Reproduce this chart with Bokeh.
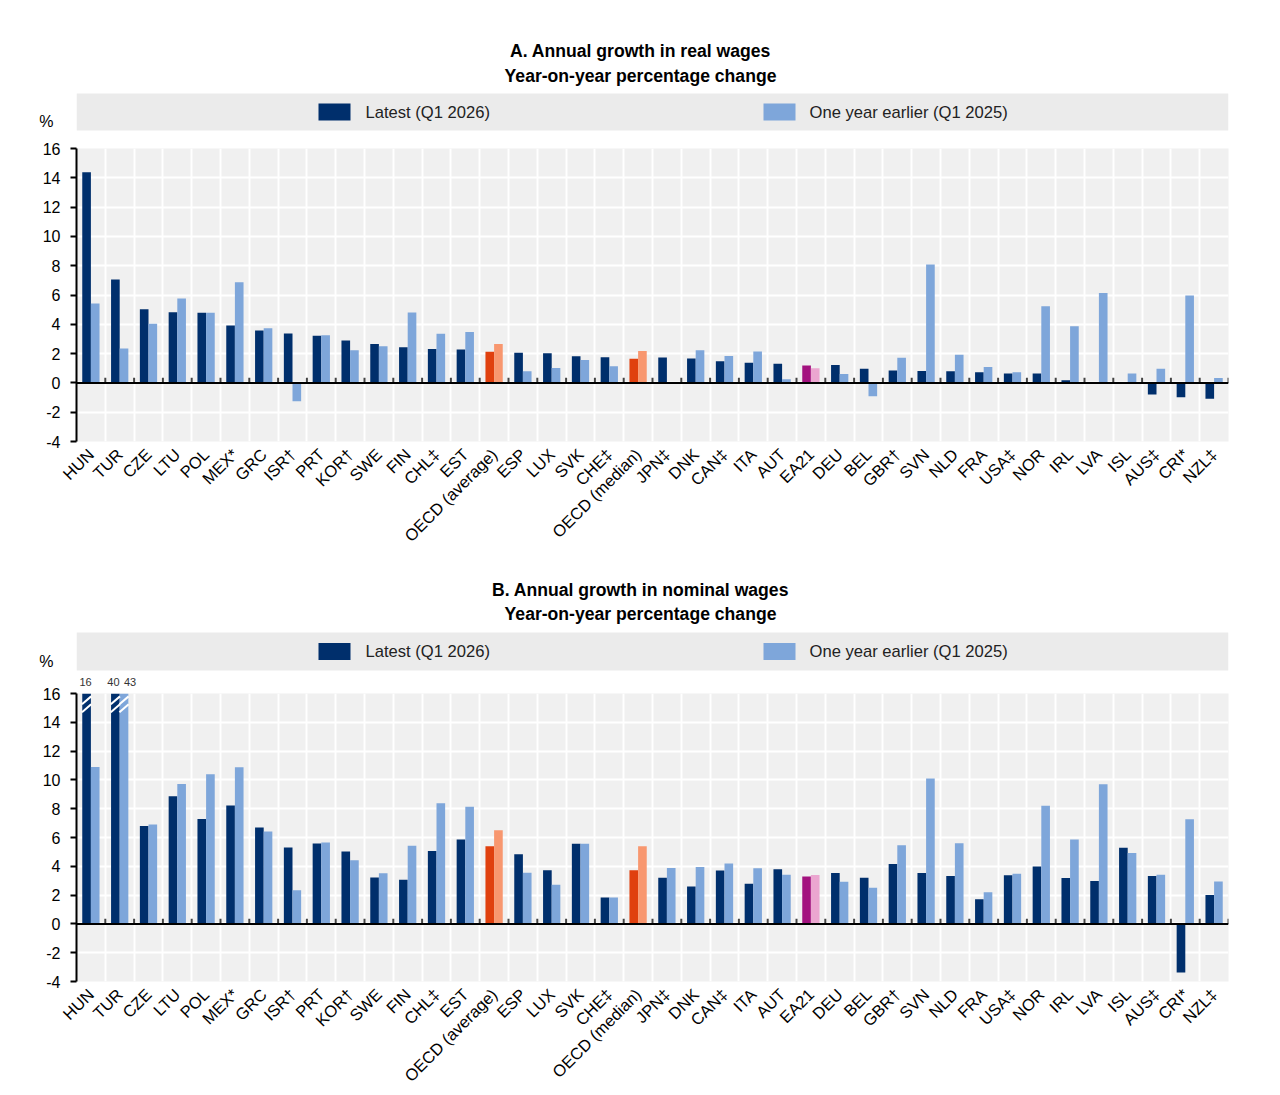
from bokeh.plotting import figure
from bokeh.models import (ColumnDataSource, FactorRange, Range1d, FixedTicker, Span)
from bokeh.transform import dodge
from bokeh.layouts import column
from bokeh.core.properties import value
from bokeh.embed import file_html
from bokeh.resources import INLINE

FONT = "Liberation Sans"

categories = ["HUN", "TUR", "CZE", "LTU", "POL", "MEX*", "GRC", "ISR†", "PRT", "KOR†",
              "SWE", "FIN", "CHL‡", "EST", "OECD (average)", "ESP", "LUX", "SVK", "CHE‡",
              "OECD (median)", "JPN‡", "DNK", "CAN‡", "ITA", "AUT", "EA21", "DEU", "BEL",
              "GBR†", "SVN", "NLD", "FRA", "USA‡", "NOR", "IRL", "LVA", "ISL", "AUS‡",
              "CRI*", "NZL‡"]

real_latest = [14.38, 7.06, 5.03, 4.82, 4.78, 3.91, 3.57, 3.37, 3.21, 2.89,
               2.66, 2.44, 2.32, 2.28, 2.12, 2.05, 2.03, 1.82, 1.75,
               1.64, 1.73, 1.66, 1.48, 1.37, 1.30, 1.18, 1.23, 0.96,
               0.84, 0.82, 0.80, 0.73, 0.64, 0.64, 0.18, 0.02, 0.0, -0.80,
               -0.98, -1.09]
real_earlier = [5.42, 2.34, 4.03, 5.76, 4.78, 6.87, 3.73, -1.25, 3.25, 2.23,
                2.50, 4.80, 3.35, 3.48, 2.66, 0.80, 1.02, 1.57, 1.14,
                2.18, 0.03, 2.23, 1.84, 2.14, 0.25, 1.00, 0.61, -0.91,
                1.71, 8.08, 1.93, 1.09, 0.73, 5.23, 3.87, 6.14, 0.64, 0.96,
                5.96, 0.34]

nom_latest = [16.2, 40.0, 6.79, 8.86, 7.28, 8.23, 6.70, 5.30, 5.58, 5.02,
              3.23, 3.07, 5.07, 5.86, 5.40, 4.84, 3.72, 5.56, 1.84,
              3.72, 3.21, 2.60, 3.70, 2.79, 3.79, 3.30, 3.53, 3.21,
              4.16, 3.53, 3.33, 1.72, 3.37, 3.98, 3.19, 2.98, 5.28, 3.33,
              -3.37, 2.00]
nom_earlier = [10.9, 43.0, 6.91, 9.72, 10.40, 10.88, 6.42, 2.33, 5.65, 4.42,
               3.51, 5.42, 8.37, 8.14, 6.51, 3.56, 2.72, 5.56, 1.84,
               5.40, 3.88, 3.95, 4.19, 3.86, 3.42, 3.40, 2.93, 2.51,
               5.47, 10.09, 5.60, 2.19, 3.49, 8.21, 5.86, 9.70, 4.93, 3.42,
               7.26, 2.95]

series_names = ["Latest (Q1 2026)", "One year earlier (Q1 2025)"]
y_ticks = [-4, -2, 0, 2, 4, 6, 8, 10, 12, 14, 16]
y_cap = 16

DARK = "#002F6C"
LIGHT = "#7EA6DA"
special_dark = {"OECD (average)": "#E0400E", "OECD (median)": "#E0400E", "EA21": "#A3127F"}
special_light = {"OECD (average)": "#F8976F", "OECD (median)": "#F8976F", "EA21": "#EBA6D0"}

W = 1280
LEFT = 76
RIGHT = 52
FW = W - LEFT - RIGHT
N = len(categories)
OFF = 0.15


def header(height, title1, title2, t1y, t2y, band_top, band_bot, pct_y, breaks=None):
    h = figure(width=W, height=height, frame_width=FW, frame_height=height,
               x_range=Range1d(LEFT, LEFT + FW), y_range=Range1d(height, 0),
               output_backend="svg", toolbar_location=None,
               min_border_left=LEFT, min_border_right=RIGHT, min_border_top=0,
               min_border_bottom=0)
    h.xaxis.visible = False
    h.grid.visible = False
    h.outline_line_color = None
    h.background_fill_color = "white"
    h.border_fill_color = "white"
    # the "%" unit sits as the only label of an otherwise bare left axis
    h.yaxis.ticker = FixedTicker(ticks=[pct_y])
    h.yaxis.major_label_overrides = {pct_y: "%"}
    h.yaxis.axis_line_color = None
    h.yaxis.major_tick_line_color = None
    h.yaxis.minor_tick_line_color = None
    h.yaxis.major_label_standoff = 17
    h.yaxis.major_label_text_font = FONT
    h.yaxis.major_label_text_font_size = "16px"
    h.yaxis.major_label_text_color = "black"

    h.text(x=[W / 2, W / 2], y=[t1y, t2y], text=[title1, title2], text_align="center",
           text_baseline="middle", text_font=value(FONT), text_font_style="bold",
           text_font_size="17.6px", text_color="black")
    h.quad(left=[LEFT], right=[LEFT + FW], top=[band_top], bottom=[band_bot],
           fill_color="#EBEBEB", line_color=None)
    mid = (band_top + band_bot) / 2
    h.quad(left=[318, 763], right=[350, 795], top=[mid - 8.5, mid - 8.5],
           bottom=[mid + 8.5, mid + 8.5], fill_color=[DARK, LIGHT], line_color=None)
    h.text(x=[365, 809], y=[mid, mid], text=series_names, text_align="left",
           text_baseline="middle", text_font=value(FONT), text_font_size="16.6px",
           text_color="#222222")
    if breaks:
        # value labels of bars cut at the axis top, over their own bar
        bx, by, bt = [], [], []
        for (cat, off, v, nudge) in breaks:
            i = categories.index(cat)
            bx.append(LEFT + (i + 0.5 + off) * FW / N + nudge)
            by.append(height - 5)
            bt.append("%d" % round(v))
        h.text(x=bx, y=by, text=bt, text_align="center", text_baseline="middle",
               text_font=value(FONT), text_font_size="11px", text_color="#333333")
    return h


def panel(latest, earlier, top_border, frame_h, bottom_border, broken=False):
    lat_plot = [min(v, y_cap) for v in latest]
    ear_plot = [min(v, y_cap) for v in earlier]
    src = ColumnDataSource(dict(
        cat=categories, latest=lat_plot, earlier=ear_plot,
        c1=[special_dark.get(c, DARK) for c in categories],
        c2=[special_light.get(c, LIGHT) for c in categories],
    ))
    p = figure(x_range=FactorRange(*categories), y_range=Range1d(-4, 16),
               width=W, height=top_border + frame_h + bottom_border,
               frame_width=FW, frame_height=frame_h,
               min_border_left=LEFT, min_border_right=RIGHT,
               min_border_top=top_border, min_border_bottom=bottom_border,
               output_backend="svg", toolbar_location=None)
    p.outline_line_color = None
    p.background_fill_color = "#F0F0F0"
    p.border_fill_color = "white"

    p.ygrid.ticker = FixedTicker(ticks=y_ticks)
    p.ygrid.grid_line_color = "white"
    p.ygrid.grid_line_width = 2
    p.xgrid.ticker = FixedTicker(ticks=list(range(1, N)))
    p.xgrid.grid_line_color = "white"
    p.xgrid.grid_line_width = 2

    p.yaxis.ticker = FixedTicker(ticks=y_ticks)
    p.yaxis.major_label_overrides = {t: str(t) for t in y_ticks}
    p.yaxis.axis_line_color = "black"
    p.yaxis.axis_line_width = 2
    p.yaxis.major_tick_line_color = "black"
    p.yaxis.major_tick_line_width = 2
    p.yaxis.major_tick_out = 6
    p.yaxis.major_tick_in = 0
    p.yaxis.minor_tick_line_color = None
    p.yaxis.major_label_standoff = 10
    p.yaxis.major_label_text_font = FONT
    p.yaxis.major_label_text_font_size = "16px"
    p.yaxis.major_label_text_color = "black"

    p.xaxis.axis_line_color = None
    p.xaxis.major_tick_line_color = None
    p.xaxis.minor_tick_line_color = None
    p.xaxis.major_label_orientation = 0.785398
    p.xaxis.major_label_standoff = 4
    p.xaxis.major_label_text_font = FONT
    p.xaxis.major_label_text_font_size = "16.5px"
    p.xaxis.major_label_text_color = "black"

    p.vbar(x=dodge("cat", -OFF, range=p.x_range), top="latest", bottom=0, width=0.3,
           fill_color="c1", line_color=None, source=src)
    p.vbar(x=dodge("cat", OFF, range=p.x_range), top="earlier", bottom=0, width=0.3,
           fill_color="c2", line_color=None, source=src)

    p.add_layout(Span(location=0, dimension="width", line_color="black", line_width=2))
    p.segment(x0=dodge("cat", 0.5, range=p.x_range), x1=dodge("cat", 0.5, range=p.x_range),
              y0=0, y1=0.35, line_color="#444444", line_width=2, source=src)

    if broken:
        bc, bo = [], []
        for c, a, b in zip(categories, latest, earlier):
            if a > y_cap:
                bc.append(c); bo.append(-OFF)
            if b > y_cap:
                bc.append(c); bo.append(OFF)
        for c, o in zip(bc, bo):
            for y0 in (14.7, 15.25):
                s = ColumnDataSource(dict(cat=[c], y0=[y0], y1=[y0 + 0.55]))
                p.segment(x0=dodge("cat", o - 0.16, range=p.x_range),
                          x1=dodge("cat", o + 0.16, range=p.x_range),
                          y0="y0", y1="y1", line_color="white", line_width=2, source=s)
    return p


breaksB = []
for c, a, b in zip(categories, nom_latest, nom_earlier):
    both = a > y_cap and b > y_cap
    if a > y_cap:
        breaksB.append((c, -OFF, a, -2 if both else -1))
    if b > y_cap:
        breaksB.append((c, OFF, b, 6 if both else 0))

hA = header(138, "A. Annual growth in real wages", "Year-on-year percentage change",
            50, 75, 93, 130, 121)
pA = panel(real_latest, real_earlier, 10, 293, 114)
hB = header(131, "B. Annual growth in nominal wages", "Year-on-year percentage change",
            34, 58, 77, 115, 106, breaks=breaksB)
pB = panel(nom_latest, nom_earlier, 7, 288, 114, broken=True)

layout = column(hA, pA, hB, pB, spacing=0)
open("out.html", "w").write(file_html(layout, INLINE))
